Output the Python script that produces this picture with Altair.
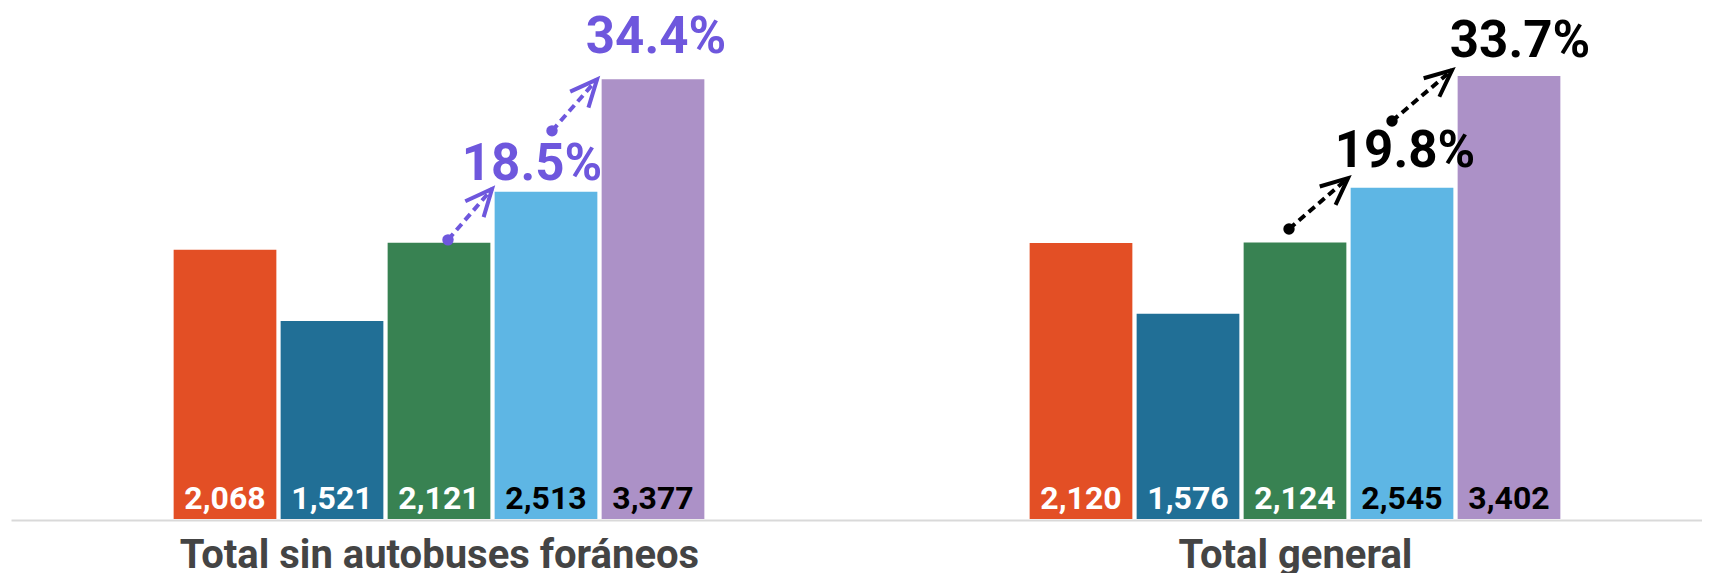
import math
import altair as alt
import pandas as pd

# ---------------- data ----------------
groups = ["Total sin autobuses foráneos", "Total general"]
series = ["Serie 1", "Serie 2", "Serie 3", "Serie 4", "Serie 5"]
values_sin_foraneos = [2068, 1521, 2121, 2513, 3377]
values_general = [2120, 1576, 2124, 2545, 3402]
growth_sin_foraneos = ["18.5%", "34.4%"]
growth_general = ["19.8%", "33.7%"]

# ---------------- style ----------------
bar_colors = ["#E34F25", "#216F96", "#388252", "#5EB6E4", "#AC91C7"]
value_text_colors = ["#FFFFFF", "#FFFFFF", "#FFFFFF", "#000000", "#000000"]
growth_colors = ["#6E57DD", "#000000"]
FONT = "Roboto"

W, H = 1691, 511
SLOT_PX = 107.0
GROUP_STEP = 8
BAR_HALF = 0.48
X_DOMAIN = [-2.0, -2.0 + W / SLOT_PX]
Y_MAX = 3925.0
PX_PER_UNIT = H / Y_MAX

all_values = [values_sin_foraneos, values_general]
all_growth = [growth_sin_foraneos, growth_general]

rows = []
for g, (gname, vals) in enumerate(zip(groups, all_values)):
    for i, (s, v) in enumerate(zip(series, vals)):
        slot = g * GROUP_STEP + i
        rows.append(dict(group=gname, series=s, value=v, slot=slot,
                         x0=slot - BAR_HALF, x1=slot + BAR_HALF, base=0,
                         text_color=value_text_colors[i]))
bars_df = pd.DataFrame(rows)

x_scale = alt.Scale(domain=X_DOMAIN, nice=False, zero=False, padding=0)
y_scale = alt.Scale(domain=[0, Y_MAX], nice=False, zero=True, padding=0)

label_expr = "datum.value < {} ? '{}' : '{}'".format(GROUP_STEP - 2, groups[0], groups[1])
x_axis = alt.Axis(values=[g * GROUP_STEP + 2 for g in range(len(groups))],
                  labelExpr=label_expr, ticks=False, tickSize=0, grid=False,
                  domain=True, domainColor="#D9D9D9", domainWidth=2, offset=1,
                  labelFont=FONT, labelFontWeight="bold", labelFontSize=40,
                  labelColor="#444444", labelBaseline="alphabetic",
                  labelPadding=47, labelLimit=2000, title=None,
                  labelFlush=False, labelOverlap=False)


def X(field):
    return alt.X(field, type="quantitative", scale=x_scale, axis=x_axis)


def Y(field):
    return alt.Y(field, type="quantitative", scale=y_scale, axis=None)


bars = alt.Chart(bars_df).mark_bar(orient="vertical").encode(
    x=X("x0"),
    x2="x1:Q",
    y=Y("value"),
    y2="base:Q",
    color=alt.Color("series:N", scale=alt.Scale(domain=series, range=bar_colors), legend=None),
)

value_text = alt.Chart(bars_df).mark_text(
    font=FONT, fontWeight="bold", fontSize=32, baseline="alphabetic",
    align="center", dy=-10,
).encode(
    x=X("slot"),
    y=Y("base"),
    text=alt.Text("value:Q", format=","),
    color=alt.Color("text_color:N", scale=None),
)

# growth labels: (group, bar index) -> pixel nudges (dx, dy)
growth_nudges = [[(-14, -12), (3, -26)], [(3, -21), (11, -19)]]
growth_layers = []
for g in range(len(groups)):
    for k in range(2):
        i = 3 + k
        df = pd.DataFrame([dict(slot=g * GROUP_STEP + i, value=all_values[g][i],
                                label=all_growth[g][k])])
        dx, dy = growth_nudges[g][k]
        growth_layers.append(
            alt.Chart(df).mark_text(
                font=FONT, fontWeight="bold", fontSize=51, baseline="alphabetic",
                align="center", dx=dx, dy=dy, color=growth_colors[g],
            ).encode(
                x=X("slot"),
                y=Y("value"),
                text="label:N",
            )
        )

# arrows: start at bar i (center), end at left edge of bar i+1; pixel nudges
arrow_geom = {
    0: [(2, 9, 3, -2.6, 3), (3, 6, 61, -4.6, 0)],
    1: [(2, -6, 13.5, -2.6, 9.6), (3, -10, 66.6, -5.6, 6)],
}
arrow_rows = []
aid = 0
for g in range(len(groups)):
    for (i, sdx, sdy, edx, edy) in arrow_geom[g]:
        vals = all_values[g]
        sx = g * GROUP_STEP + i + sdx / SLOT_PX
        sy = vals[i] + sdy / PX_PER_UNIT
        ex = g * GROUP_STEP + (i + 1) - BAR_HALF + edx / SLOT_PX
        ey = vals[i + 1] + edy / PX_PER_UNIT
        ang = math.degrees(math.atan2(-(ey - sy) * PX_PER_UNIT, (ex - sx) * SLOT_PX)) % 360
        arrow_rows.append(dict(arrow=aid, seq=0, x=sx, y=sy, angle=ang, color=growth_colors[g]))
        arrow_rows.append(dict(arrow=aid, seq=1, x=ex, y=ey, angle=ang, color=growth_colors[g]))
        aid += 1
arrows_df = pd.DataFrame(arrow_rows)

arrow_base = alt.Chart(arrows_df).encode(
    x=X("x"),
    y=Y("y"),
    color=alt.Color("color:N", scale=None),
)
arrow_lines = arrow_base.mark_line(strokeWidth=4, strokeDash=[8, 5]).encode(
    detail="arrow:N", order="seq:Q")
arrow_dots = arrow_base.transform_filter("datum.seq == 0").mark_point(
    shape="circle", filled=True, size=130, opacity=1)
CHEVRON = "M -1 -0.45 L 0 0 L -1 0.45"
arrow_heads = arrow_base.transform_filter("datum.seq == 1").mark_point(
    shape=CHEVRON, filled=False, size=2900, strokeWidth=4, opacity=1,
    strokeJoin="miter").encode(angle=alt.Angle("angle:Q", scale=None))

chart = alt.layer(
    bars, value_text, *growth_layers, arrow_lines, arrow_dots, arrow_heads
).properties(
    width=W, height=H,
    padding={"left": 3, "right": 0, "top": 0, "bottom": 56},
    autosize=alt.AutoSizeParams(type="none"),
    background="white",
).configure_view(stroke=None)

chart.save("out.html", embed_options={"renderer": "svg", "actions": False})
